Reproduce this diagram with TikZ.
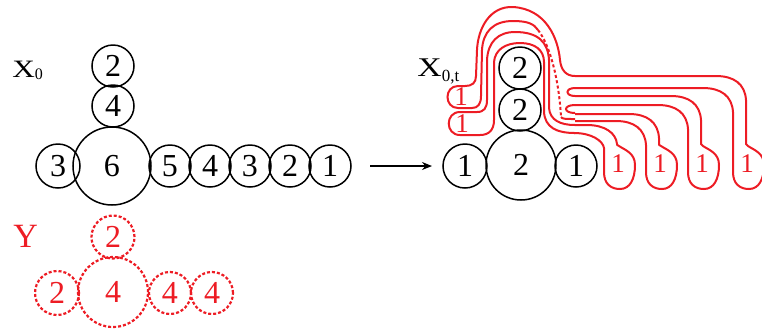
\documentclass[tikz,border=0pt]{standalone}
\usepackage{fontspec}
\setmainfont{Liberation Serif}
\usetikzlibrary{arrows.meta}
\definecolor{sketchred}{RGB}{237,28,36}
\newcommand{\digitfont}{\fontsize{16}{19}\selectfont}
\newcommand{\onefont}{\fontsize{13.5}{16}\selectfont}
\newcommand{\wideX}{\scalebox{1.25}[1]{X}}

\begin{document}
\begin{tikzpicture}[x=0.5pt,y=-0.5pt,
  ball/.style={circle,draw,line width=0.75pt,inner sep=0pt,font=\digitfont},
  dotball/.style={circle,draw=sketchred,text=sketchred,line width=1.1pt,
    dash pattern=on 1.5pt off 1pt,inner sep=0pt,font=\digitfont},
  tube/.style={draw=sketchred,line width=1pt},
  redone/.style={text=sketchred,font=\onefont,inner sep=0pt},
  lbl/.style={anchor=base west,inner sep=0pt}]
  \useasboundingbox (0,0) rectangle (762,329);
  % ---- left: X_0 ----
  \node[lbl,font=\fontsize{12.5}{15}\selectfont] (xzero) at (12,77)
    {\wideX\raisebox{-1pt}{\fontsize{8}{9}\selectfont 0}};
  \node[ball,minimum size=21pt] (ltop) at (113,66) {2};
  \node[ball,minimum size=21pt] (lmid) at (113,106) {4};
  \node[ball,minimum size=39pt] (lbig) at (112,166) {6};
  \node[ball,minimum size=22pt] (lleft) at (58,166) {3};
  \foreach \v [count=\i] in {5,4,3,2,1}
    \node[ball,minimum size=21pt] (lrow\i) at ({130+40*\i},166) {\v};
  % ---- arrow ----
  \coordinate (arrS) at (370,166);
  \coordinate (arrE) at (432,166);
  \draw[line width=0.6pt,-{Stealth[length=5pt,width=4pt]}] (arrS) -- (arrE);
  % ---- right: X_{0,t} ----
  \node[lbl,font=\fontsize{13.5}{16}\selectfont] (xzt) at (417,76)
    {\wideX\raisebox{-2.5pt}{\fontsize{8.5}{10}\selectfont 0,t}};
  \node[ball,minimum size=22pt] (rleft) at (465,166) {1};
  \node[ball,minimum size=35pt] (rbig) at (521,165) {2};
  \node[ball,minimum size=21pt] (rright) at (576,166) {1};
  \node[ball,minimum size=21pt] (rmid) at (520,110) {2};
  \node[ball,minimum size=21pt] (rtop) at (520,68) {2};
  % outer tube: arc over the top, upper left bulb, hidden part
  \draw[tube] (575,76) .. controls (566,76) and (561,70) .. (560,60)
    .. controls (558,38) and (546,9) .. (513,7)
    .. controls (490,6) and (478,28) .. (477,50) -- (476,76)
    .. controls (476,83) and (472,86) .. (465,86) -- (458,86)
    .. controls (444,86) and (444,108) .. (458,108) -- (472,108)
    .. controls (478,108) and (481,104) .. (481,96) -- (482,50)
    .. controls (483,32) and (493,21) .. (513,21)
    .. controls (528,21) and (534,24) .. (538,30);
  \draw[tube,dash pattern=on 1.5pt off 1.2pt] (538,30)
    .. controls (550,45) and (559,80) .. (561,117);
  \draw[tube] (561,117) .. controls (562,119) and (566,119) .. (575,119);
  \draw[tube] (575,88) .. controls (565,88) and (565,96) .. (575,96);
  \draw[tube] (575,105) .. controls (563,105) and (563,113) .. (575,113);
  % inner tube: arc over the top, lower left bulb
  \draw[tube] (575,125) .. controls (560,125) and (550,120) .. (549,108) -- (549,60)
    .. controls (548,42) and (538,32) .. (515,32)
    .. controls (498,32) and (488,42) .. (487,60) -- (487,100)
    .. controls (487,108) and (484,112) .. (477,112) -- (460,112)
    .. controls (445,112) and (445,135) .. (460,135) -- (480,135)
    .. controls (489,135) and (494,130) .. (494,120) -- (494,62)
    .. controls (495,50) and (505,43) .. (520,43)
    .. controls (535,43) and (544,50) .. (544,62) -- (544,112)
    .. controls (545,127) and (556,133) .. (575,133);
  \node[redone] (lone1) at (461,97) {1};
  \node[redone] (lone2) at (462,124) {1};
  % fingers hanging down on the right
  \foreach \bx/\yo/\yi [count=\i] in {618/125/133,660/114/121,702/96/105,747/76/88}{
    \pgfmathsetmacro\ti{min(\yi+24,148)}
    \pgfmathsetmacro\to{min(\yo+24,144)}
    \draw[tube] (575,\yi) -- ({\bx-44},\yi)
      .. controls ({\bx-26},\yi) and ({\bx-15},{\yi+8}) .. ({\bx-14},\ti)
      -- ({\bx-14},172)
      .. controls ({\bx-14},184) and ({\bx-7},189) .. ({\bx+2},189)
      .. controls ({\bx+12},189) and ({\bx+17},179) .. ({\bx+17},165)
      .. controls ({\bx+17},153) and ({\bx+7},150) .. ({\bx+1},146)
      .. controls ({\bx-1},145) .. ({\bx-1},144)
      -- ({\bx-1},\to)
      .. controls ({\bx-2},{\yo+8}) and ({\bx-13},\yo) .. ({\bx-31},\yo)
      -- (575,\yo);
    \node[redone] (rone\i) at (\bx,164) {1};
  }
  % ---- bottom: Y ----
  \node[lbl,text=sketchred,font=\fontsize{17}{20}\selectfont] (ylab) at (13,247) {Y};
  \node[dotball,minimum size=21.5pt] (ytop) at (113,237) {2};
  \node[dotball,minimum size=35pt] (ybig) at (113,292) {4};
  \node[dotball,minimum size=22pt] (yleft) at (57,293) {2};
  \node[dotball,minimum size=21pt] (yfour1) at (170,293) {4};
  \node[dotball,minimum size=21pt] (yfour2) at (212,293) {4};
\end{tikzpicture}
\end{document}
